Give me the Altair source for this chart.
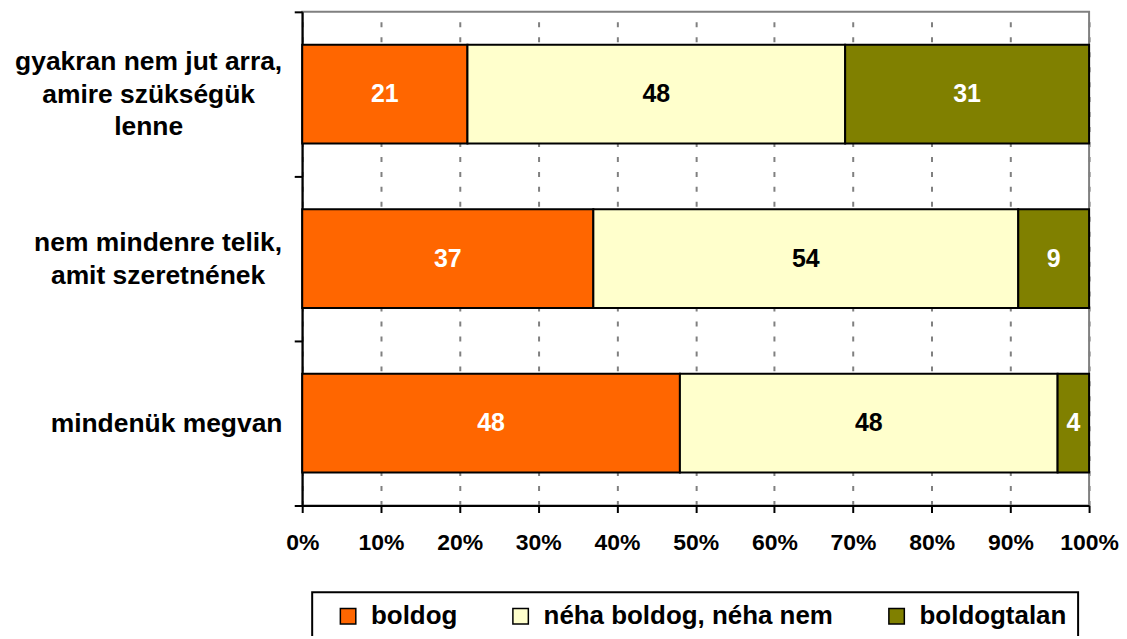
import altair as alt
import pandas as pd

# category labels: lines split on '|'
categories = [
    "gyakran nem jut arra,|amire szükségük|lenne",
    "nem mindenre telik,|amit szeretnének",
    "mindenük megvan",
]
series = ["boldog", "néha boldog, néha nem", "boldogtalan"]
boldog = [21, 37, 48]
neha = [48, 54, 48]
boldogtalan = [31, 9, 4]
colors = ["#FF6600", "#FFFFCC", "#808000"]
x_ticks = [0, 0.1, 0.2, 0.3, 0.4, 0.5, 0.6, 0.7, 0.8, 0.9, 1.0]

rows = []
for i, cat in enumerate(categories):
    for j, (s, vals) in enumerate(zip(series, [boldog, neha, boldogtalan])):
        rows.append({"cat": cat, "series": s, "value": vals[i], "order": j})
df = pd.DataFrame(rows)

FONT = "Liberation Sans"

# each label block is right-aligned, its lines centred within it
label_padding = {
    "condition": [
        {"test": f"datum.value == '{categories[0]}'", "value": 146.5},
        {"test": f"datum.value == '{categories[1]}'", "value": 137},
    ],
    "value": 128.5,
}
# shift multi-line labels so the whole block is centred on the band
label_offset = {
    "condition": [
        {"test": f"datum.value == '{categories[0]}'", "value": -33},
        {"test": f"datum.value == '{categories[1]}'", "value": -16.5},
    ],
    "value": 0,
}

y_axis = alt.Axis(
    title=None,
    labelExpr="split(datum.label, '|')",
    labelAlign="center",
    labelBaseline="middle",
    labelPadding=label_padding,
    labelOffset=label_offset,
    labelFontSize=26.5,
    labelFontWeight="bold",
    labelColor="black",
    labelLineHeight=33,
    labelFont=FONT,
    labelLimit=400,
    tickBand="extent",
    tickSize=8,
    tickWidth=2,
    tickColor="black",
    domainColor="black",
    domainWidth=2,
    grid=False,
)
x_axis = alt.Axis(
    title=None,
    values=x_ticks,
    format=".0%",
    labelFontSize=23,
    labelFontWeight="bold",
    labelColor="black",
    labelFont=FONT,
    labelPadding=19,
    labelOverlap=False,
    labelFlush=False,
    tickSize=7,
    tickWidth=2,
    tickColor="black",
    domainColor="black",
    domainWidth=2,
    grid=True,
    gridColor="#808080",
    gridWidth=2,
    gridDash=[5, 10],
)
y_scale = alt.Scale(paddingInner=0, paddingOuter=0)
x_scale = alt.Scale(domain=[0, 1], nice=False)

base = alt.Chart(df)

bars = base.mark_bar(stroke="black", strokeWidth=2, height={"band": 0.6}).encode(
    y=alt.Y("cat:N", sort=categories, scale=y_scale, axis=y_axis),
    x=alt.X("value:Q", stack="normalize", scale=x_scale, axis=x_axis),
    color=alt.Color(
        "series:N",
        sort=series,
        scale=alt.Scale(domain=series, range=colors),
        legend=alt.Legend(
            title=None,
            orient="none",
            direction="horizontal",
            columns=3,
            legendX=10,
            legendY=582,
            padding=11,
            strokeColor="black",
            fillColor="white",
            symbolType="square",
            symbolSize=240,
            symbolStrokeColor="black",
            symbolStrokeWidth=1.5,
            symbolOffset=12,
            labelOffset=10,
            columnPadding=38,
            labelFontSize=26,
            labelFontWeight="bold",
            labelColor="black",
            labelFont=FONT,
            labelLimit=500,
        ),
    ),
    order=alt.Order("order:Q"),
)

text = (
    base.transform_stack(
        stack="value",
        groupby=["cat"],
        sort=[alt.SortField("order")],
        as_=["x0", "x1"],
        offset="normalize",
    )
    .transform_calculate(mid="(datum.x0 + datum.x1) / 2")
    .mark_text(fontSize=25, fontWeight="bold", font=FONT, baseline="middle")
    .encode(
        y=alt.Y("cat:N", sort=categories, scale=y_scale, axis=y_axis),
        x=alt.X("mid:Q", scale=x_scale, axis=x_axis),
        text=alt.Text("value:Q"),
        color=alt.condition(
            "datum.series == 'néha boldog, néha nem'",
            alt.value("black"),
            alt.value("white"),
        ),
    )
)

chart = (
    alt.layer(bars, text)
    .properties(
        width=789,
        height=495,
        autosize=alt.AutoSizeParams(type="none"),
        padding={"left": 295, "top": 3, "right": 30, "bottom": 130},
        background="white",
    )
    .configure(font=FONT)
    .configure_view(stroke="#808080", strokeWidth=2)
    .configure_legend(strokeWidth=2)
)

chart.save("out.html", embed_options={"renderer": "svg", "actions": False})
